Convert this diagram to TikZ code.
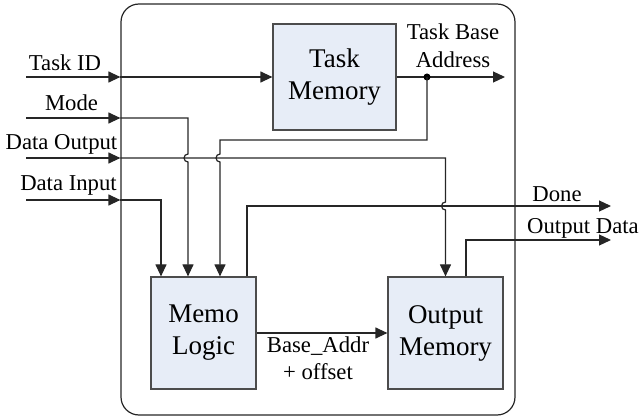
\documentclass[tikz,border=0pt]{standalone}
\usepackage{fontspec}
\setmainfont{Liberation Serif}
\usetikzlibrary{arrows.meta}
\definecolor{blockfill}{HTML}{E7EDF7}
\tikzset{x=1pt,y=-1pt,
    block/.style={draw=black!70,fill=blockfill,line width=1.2pt,align=center,
        inner sep=0pt,font=\fontsize{27}{32}\selectfont},
    sig/.style={draw=black!85,line width=1.2pt,-{Triangle[length=12pt,width=11pt]}},
    lbl/.style={anchor=base,align=center,inner sep=0pt,font=\fontsize{22.7}{28}\selectfont},
    }
\begin{document}
\begin{tikzpicture}
\useasboundingbox (0,0) rectangle (641,417);
\node[draw=black!85,line width=1.2pt,rounded corners=18pt,minimum width=394pt,
    minimum height=411pt] (sys) at (318,209.5) {};
\node[block,minimum width=123pt,minimum height=106pt] (taskmem) at (334.5,77) {Task\\Memory};
\node[block,minimum width=105pt,minimum height=112pt] (memo) at (203.5,333) {Memo\\Logic};
\node[block,minimum width=115pt,minimum height=112pt] (outmem) at (445.5,333) {Output\\Memory};
% inputs
\coordinate (tid) at (26,77);
\coordinate (mode) at (26,118);
\coordinate (dout) at (26,158);
\coordinate (din) at (26,200);
\foreach \p in {tid,mode,dout,din}
    \draw[sig] (\p) -- (\p -| sys.west);
\node[lbl] (tidlbl) at (65,71) {Task ID};
\node[lbl] (modelbl) at (71.5,111) {Mode};
\node[lbl] (doutlbl) at (61.5,150) {Data Output};
\node[lbl] (dinlbl) at (68.5,191) {Data Input};
\draw[sig] (tid -| sys.west) -- (taskmem.west);
\draw[sig] (mode -| sys.west) -- (188,118) -- (188,154) arc(270:90:4)
    -- (memo.north -| 188,0);%hop over Data Output
\draw[sig] (din -| sys.west) -- (161,200) -- (memo.north -| 161,0);
\draw[sig] (dout -| sys.west) -- (445.5,158) -- (445.5,202) arc(270:90:4) -- (outmem.north);
% task base address
\coordinate (tap) at (427,77);
\draw[sig] (taskmem.east) -- (tap) -- (505,77);
\fill (tap) circle (3.5);
\node[lbl] (tbalbl) at (453,68) {Task Base\\Address};
\draw[sig] (tap) -- (427,140) -- (220,140) -- (220,154) arc(270:90:4)
    -- (memo.north -| 220,0);
% outputs
\coordinate (done) at (611,206);
\coordinate (odata) at (611,240);
\draw[sig] (memo.north -| 247,0) -- (247,206) -- (done);
\node[lbl] (donelbl) at (557,202) {Done};
\draw[sig] (outmem.north -| 466,0) -- (466,240) -- (odata);
\node[lbl] (odatalbl) at (583,234) {Output Data};
\draw[sig] (memo.east) -- (outmem.west);
\node[lbl] (addrlbl) at (318,380) {Base\_Addr\\+ offset};
\end{tikzpicture}
\end{document}
